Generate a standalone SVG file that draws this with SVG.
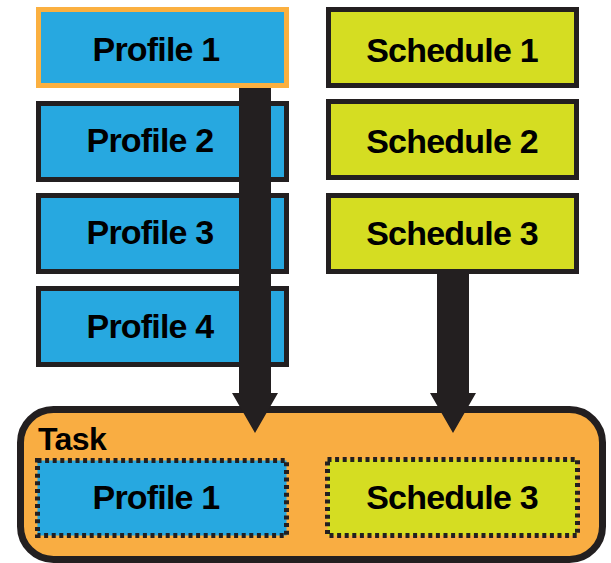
<svg xmlns="http://www.w3.org/2000/svg" width="611" height="563" viewBox="0 0 611 563">
  <style>
    .lbl { font-family: "Liberation Sans", Arial, sans-serif; font-weight: bold; font-size: 34px; letter-spacing: -0.8px; fill: #000; text-anchor: middle; }
    .task-lbl { font-family: "Liberation Sans", Arial, sans-serif; font-weight: bold; font-size: 32px; letter-spacing: -0.6px; fill: #000; }
    .profile { fill: #27a8e0; stroke: #231f20; stroke-width: 5; }
    .schedule { fill: #d5dd22; stroke: #231f20; stroke-width: 5; }
    .selected { stroke: #fbb040; }
    .task { fill: #f9ad42; stroke: #231f20; stroke-width: 7; }
    .dotted { stroke: #231f20; stroke-width: 5; stroke-dasharray: 4 3.6; }
    .arrow { fill: #231f20; }
  </style>

  <!-- container -->
  <g id="task">
    <rect class="task" x="20.5" y="409.5" width="582" height="150" rx="33" ry="33"/>
    <text class="task-lbl" x="38" y="450">Task</text>
  </g>

  <!-- profiles column -->
  <g id="profile1">
    <rect class="profile selected" x="38.5" y="9.5" width="248" height="76"/>
    <text class="lbl" x="156" y="61">Profile 1</text>
  </g>
  <g id="profile2">
    <rect class="profile" x="38.5" y="103.5" width="248" height="76"/>
    <text class="lbl" x="150" y="152">Profile 2</text>
  </g>
  <g id="profile3">
    <rect class="profile" x="38.5" y="195.5" width="248" height="76"/>
    <text class="lbl" x="150" y="244">Profile 3</text>
  </g>
  <g id="profile4">
    <rect class="profile" x="38.5" y="288.5" width="248" height="76"/>
    <text class="lbl" x="150" y="338">Profile 4</text>
  </g>

  <!-- schedules column -->
  <g id="schedule1">
    <rect class="schedule" x="328.5" y="9.5" width="248" height="76"/>
    <text class="lbl" x="452" y="62">Schedule 1</text>
  </g>
  <g id="schedule2">
    <rect class="schedule" x="328.5" y="101.5" width="248" height="76"/>
    <text class="lbl" x="452" y="153">Schedule 2</text>
  </g>
  <g id="schedule3">
    <rect class="schedule" x="328.5" y="195.5" width="248" height="76"/>
    <text class="lbl" x="452" y="245">Schedule 3</text>
  </g>

  <!-- members placed in the task -->
  <g id="task-profile">
    <rect class="profile dotted" x="37.5" y="460.5" width="249" height="75"/>
    <text class="lbl" x="156" y="509">Profile 1</text>
  </g>
  <g id="task-schedule">
    <rect class="schedule dotted" x="327.5" y="459.5" width="250" height="76"/>
    <text class="lbl" x="452" y="509">Schedule 3</text>
  </g>

  <!-- connectors -->
  <g id="connectors">
    <polygon class="arrow" points="239,88 271,88 271,393 278,393 255,433 232,393 239,393"/>
    <polygon class="arrow" points="437,272 469,272 469,393 476,393 453,433 430,393 437,393"/>
  </g>
</svg>
